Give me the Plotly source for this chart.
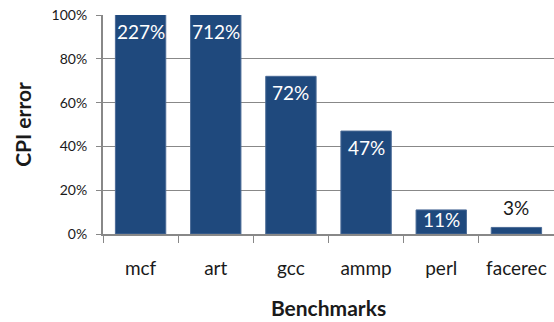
import plotly.graph_objects as go

# CPI error per benchmark (percent)
benchmarks = ["mcf", "art", "gcc", "ammp", "perl", "facerec"]
cpi_error_pct = [227, 712, 72, 47, 11, 3]

BAR_COLOR = "#1F497D"
AXIS_GRAY = "#888888"
FONT = "Lato"

fig = go.Figure()
fig.add_trace(go.Bar(
    x=benchmarks,
    y=[v / 100 for v in cpi_error_pct],
    marker=dict(color=BAR_COLOR, line=dict(color="#4A6A96", width=1)),
    width=0.67,
    hoverinfo="skip",
))

# value labels: inside the bar end, nudged up on short bars, above tiny bars
y_max = 1.0
for name, v in zip(benchmarks, cpi_error_pct):
    top = min(v / 100, y_max)
    if v < 10:
        anchor, shift, color = "bottom", 6, "#1a1a1a"
    elif v < 20:
        anchor, shift, color = "top", 4, "white"
    else:
        anchor, shift, color = "top", -3, "white"
    fig.add_annotation(
        x=name, y=top, xref="x", yref="y",
        text=f"{v}%",
        showarrow=False,
        yanchor=anchor,
        yshift=shift,
        font=dict(family=FONT, size=19, color=color),
    )

fig.update_layout(
    width=554, height=322,
    margin=dict(l=103, r=0, t=15, b=88),
    paper_bgcolor="white", plot_bgcolor="white",
    showlegend=False,
    bargap=0.33,
    font=dict(family=FONT, color="#1a1a1a"),
)
fig.update_yaxes(
    range=[0, y_max],
    tickvals=[0, 0.2, 0.4, 0.6, 0.8, 1.0],
    tickformat=".0%",
    tickfont=dict(size=14),
    ticklabelstandoff=6,
    showgrid=True, gridcolor=AXIS_GRAY, gridwidth=1,
    showline=True, linecolor=AXIS_GRAY, linewidth=2,
    ticks="outside", ticklen=5, tickcolor=AXIS_GRAY, tickwidth=1,
    zeroline=False,
    title=dict(text="<b>CPI error</b>", font=dict(size=21), standoff=14),
)
fig.update_xaxes(
    tickfont=dict(size=19),
    ticklabelstandoff=16,
    showline=True, linecolor=AXIS_GRAY, linewidth=2,
    ticks="outside", tickson="boundaries", ticklen=7, tickcolor=AXIS_GRAY, tickwidth=1,
    title=dict(text="<b>Benchmarks</b>", font=dict(size=21), standoff=24),
)

fig.write_html("out.html")
